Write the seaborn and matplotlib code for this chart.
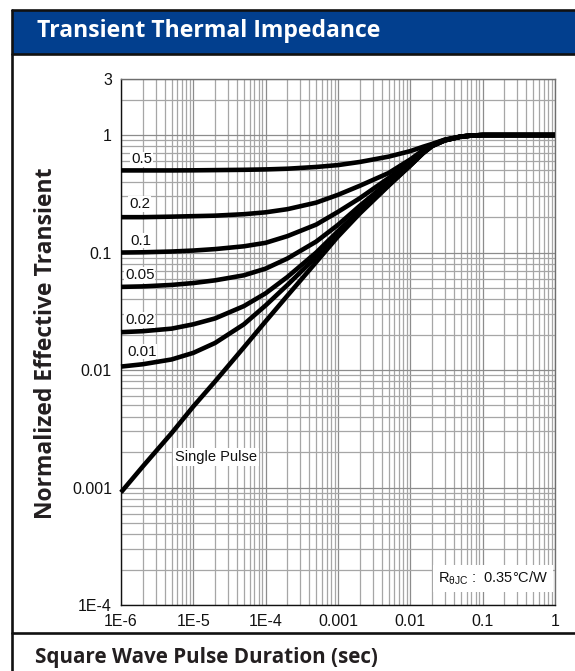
import matplotlib
matplotlib.use("Agg")
import matplotlib.pyplot as plt
import matplotlib.ticker as mticker
from matplotlib.lines import Line2D
from matplotlib.patches import Rectangle
import pandas as pd
import seaborn as sns

# Pulse duration (s) at which each curve is sampled
pulse_time = [1e-6, 2e-6, 5e-6, 1e-5, 2e-5, 5e-5, 1e-4, 2e-4, 5e-4, 1e-3,
              2e-3, 5e-3, 1e-2, 1.5e-2, 2e-2, 3e-2, 5e-2, 7e-2, 0.1, 1.0]

# Normalized effective transient thermal impedance for each duty cycle
z_d050 = [0.500, 0.500, 0.500, 0.501, 0.503, 0.506, 0.510, 0.517, 0.535, 0.555,
          0.590, 0.655, 0.730, 0.795, 0.840, 0.915, 0.972, 0.992, 1.0, 1.0]
z_d020 = [0.200, 0.200, 0.202, 0.204, 0.206, 0.212, 0.220, 0.234, 0.266, 0.310,
          0.370, 0.475, 0.620, 0.745, 0.830, 0.910, 0.970, 0.990, 1.0, 1.0]
z_d010 = [0.100, 0.1005, 0.102, 0.104, 0.107, 0.113, 0.121, 0.138, 0.173, 0.222,
          0.290, 0.430, 0.590, 0.725, 0.820, 0.905, 0.970, 0.990, 1.0, 1.0]
z_d005 = [0.051, 0.0515, 0.053, 0.055, 0.058, 0.064, 0.073, 0.089, 0.124, 0.172,
          0.250, 0.400, 0.570, 0.712, 0.815, 0.903, 0.970, 0.990, 1.0, 1.0]
z_d002 = [0.0210, 0.0214, 0.0225, 0.0245, 0.0275, 0.0350, 0.0450, 0.0620, 0.100, 0.152,
          0.228, 0.380, 0.556, 0.705, 0.810, 0.902, 0.970, 0.990, 1.0, 1.0]
z_d001 = [0.0107, 0.0112, 0.0123, 0.0140, 0.0170, 0.0245, 0.0355, 0.0530, 0.092, 0.145,
          0.222, 0.375, 0.553, 0.702, 0.806, 0.901, 0.970, 0.990, 1.0, 1.0]
z_single = [0.00091, 0.00151, 0.0029, 0.0049, 0.0080, 0.0156, 0.0260, 0.0430, 0.083, 0.137,
            0.215, 0.370, 0.550, 0.700, 0.805, 0.900, 0.970, 0.990, 1.0, 1.0]

curve_names = ["0.5", "0.2", "0.1", "0.05", "0.02", "0.01", "Single Pulse"]
curve_values = [z_d050, z_d020, z_d010, z_d005, z_d002, z_d001, z_single]

x_ticks = [1e-6, 1e-5, 1e-4, 1e-3, 1e-2, 1e-1, 1.0]
x_tick_labels = ["1E-6", "1E-5", "1E-4", "0.001", "0.01", "0.1", "1"]
y_ticks = [1e-4, 1e-3, 1e-2, 1e-1, 1.0, 3.0]
y_tick_labels = ["1E-4", "0.001", "0.01", "0.1", "1", "3"]

rows = []
for name, vals in zip(curve_names, curve_values):
    for t, z in zip(pulse_time, vals):
        rows.append({"t": t, "z": z, "curve": name})
df = pd.DataFrame(rows)

sns.set_style("white")
plt.rcParams["font.family"] = ["Liberation Sans", "DejaVu Sans"]
plt.rcParams["mathtext.fontset"] = "custom"
plt.rcParams["mathtext.rm"] = "Liberation Sans"
plt.rcParams["mathtext.it"] = "Liberation Sans:italic"

W, H = 575, 671
fig = plt.figure(figsize=(W / 100, H / 100), dpi=100)
fig.patch.set_facecolor("white")

# Page frame: heading bar, left border and separator lines
blue = "#023f8e"
fig.add_artist(Rectangle((12 / W, 1 - 54 / H), 1, 44 / H, transform=fig.transFigure,
                         facecolor=blue, edgecolor="none", zorder=0))
frame_kw = dict(transform=fig.transFigure, color="#111111", linewidth=1.9)
fig.add_artist(Line2D([12 / W, 12 / W], [0, 1 - 10 / H], **frame_kw))
fig.add_artist(Line2D([12 / W, 1], [1 - 10 / H, 1 - 10 / H], **frame_kw))
fig.add_artist(Line2D([12 / W, 1], [1 - 54 / H, 1 - 54 / H], **frame_kw))
fig.add_artist(Line2D([12 / W, 1], [1 - 633 / H, 1 - 633 / H], **frame_kw))

heading_font = ["Open Sans", "Noto Sans", "DejaVu Sans"]
fig.text(37 / W, 1 - 31 / H, "Transient Thermal Impedance", color="white",
         fontsize=16.6, fontweight="bold", family=heading_font, va="center", ha="left")
fig.text(35 / W, 1 - 657 / H, "Square Wave Pulse Duration (sec)", color="#231f20",
         fontsize=14.9, fontweight="bold", family=heading_font, va="center", ha="left")
fig.text(46 / W, 1 - 343 / H, "Normalized Effective Transient", color="#231f20",
         fontsize=16.5, fontweight="bold", family=heading_font, va="center", ha="center",
         rotation=90)

ax = fig.add_axes([121 / W, 1 - 605 / H, 434 / W, 526 / H])
ax.set_xscale("log")
ax.set_yscale("log")

sns.lineplot(data=df, x="t", y="z", hue="curve",
             palette={n: "black" for n in curve_names},
             estimator=None, sort=False, legend=False, linewidth=3.3, ax=ax,
             zorder=3)
for ln in ax.get_lines():
    ln.set_solid_capstyle("butt")
    ln.set_solid_joinstyle("round")
    ln.set_clip_on(False)

ax.set_xlim(1e-6, 1.0)
ax.set_ylim(1e-4, 3.0)

ax.xaxis.set_major_locator(mticker.FixedLocator(x_ticks))
ax.xaxis.set_major_formatter(mticker.FixedFormatter(x_tick_labels))
ax.yaxis.set_major_locator(mticker.FixedLocator(y_ticks))
ax.yaxis.set_major_formatter(mticker.FixedFormatter(y_tick_labels))
ax.xaxis.set_minor_locator(mticker.LogLocator(base=10, subs=range(2, 10), numticks=20))
ax.yaxis.set_minor_locator(mticker.LogLocator(base=10, subs=range(2, 10), numticks=20))
ax.xaxis.set_minor_formatter(mticker.NullFormatter())
ax.yaxis.set_minor_formatter(mticker.NullFormatter())
ax.tick_params(which="both", length=0)
ax.tick_params(axis="x", pad=6.5, labelsize=11.5, colors="#111111")
ax.tick_params(axis="y", pad=6.5, labelsize=11.5, colors="#111111")

ax.grid(which="major", color="#8c8c8c", linewidth=0.9)
ax.grid(which="minor", color="#a6a6a6", linewidth=0.9)
ax.set_axisbelow(True)
ax.set_xlabel("")
ax.set_ylabel("")

for side in ["left", "bottom"]:
    ax.spines[side].set_color("#111111")
    ax.spines[side].set_linewidth(1.0)
for side in ["top", "right"]:
    ax.spines[side].set_color("#6e6e6e")
    ax.spines[side].set_linewidth(1.0)

# Duty-cycle labels sitting just above each curve's flat start
label_offsets = {"0.5": (10, 11), "0.2": (8, 13), "0.1": (9, 12),
                 "0.05": (4, 12), "0.02": (4, 12), "0.01": (6, 15)}
box = dict(facecolor="white", edgecolor="none", pad=0.6)
for name, vals in zip(curve_names[:-1], curve_values[:-1]):
    dx, dy = label_offsets[name]
    ax.annotate(name, xy=(pulse_time[0], vals[0]), xytext=(dx, dy),
                textcoords="offset pixels", ha="left", va="center",
                fontsize=10.8, color="#111111", bbox=box, zorder=4)

ax.text(5.5e-6, 10 ** ((136 - 458) / 117.5), "Single Pulse", ha="left", va="center",
        fontsize=10.5, color="#111111", bbox=dict(facecolor="white", edgecolor="none", pad=1.5),
        zorder=4)

ax.text(0.985, 0.034, r"R$_{\mathrm{\theta JC}}$ :  0.35°C/W", transform=ax.transAxes,
        ha="right", va="bottom", fontsize=10.5, color="#111111",
        bbox=dict(facecolor="white", edgecolor="none", pad=3.5), zorder=4)

fig.savefig("out.png", dpi=100)
